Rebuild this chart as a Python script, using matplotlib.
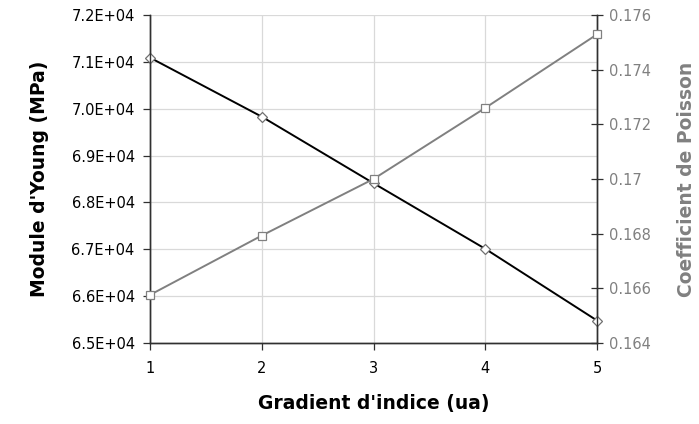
import matplotlib
matplotlib.use("Agg")
import matplotlib.pyplot as plt
from matplotlib.ticker import FuncFormatter, MultipleLocator

plt.rcParams['font.family'] = ['DejaVu Sans']

gradient = [1, 2, 3, 4, 5]
young = [7.109e4, 6.983e4, 6.841e4, 6.701e4, 6.548e4]
poisson = [0.16576, 0.16793, 0.1700, 0.1726, 0.17529]

fig = plt.figure(figsize=(6.99, 4.24), dpi=100)
ax = fig.add_axes([150/699, 1-343/424, (597-150)/699, (343-15)/424])
ax2 = ax.twinx()

ax.plot(gradient, young, color='black', lw=1.4, marker='D', ms=5.5,
        mfc='white', mec='#707070', mew=0.9, zorder=3, clip_on=False)
ax2.plot(gradient, poisson, color='#808080', lw=1.4, marker='s', ms=6,
         mfc='white', mec='#808080', mew=0.9, zorder=3, clip_on=False)

ax.set_xlim(1, 5)
ax.set_ylim(6.5e4, 7.2e4)
ax.yaxis.set_major_locator(MultipleLocator(1000))
ax.xaxis.set_major_locator(MultipleLocator(1))
ax.yaxis.set_major_formatter(FuncFormatter(lambda v, p: '%.1E' % v))
ax2.set_ylim(0.164, 0.176)
ax2.yaxis.set_major_locator(MultipleLocator(0.002))
ax2.yaxis.set_major_formatter(FuncFormatter(lambda v, p: '%g' % round(v, 4)))

ax.grid(True, color='#d9d9d9', lw=0.9)
ax.set_axisbelow(True)

for a in (ax, ax2):
    a.spines['top'].set_visible(False)
    for s in ('left', 'bottom', 'right'):
        a.spines[s].set_color('#303030')
        a.spines[s].set_linewidth(1.0)

ax.tick_params(axis='y', direction='out', length=5, width=0.9, color='#303030',
               labelsize=10.5, pad=6)
ax.tick_params(axis='x', direction='out', length=5, width=0.9, color='#303030',
               labelsize=10.5, pad=8)
ax2.tick_params(axis='y', direction='inout', length=8, width=0.9, color='#303030',
                labelsize=10.5, labelcolor='#808080', pad=5)

ax.set_xlabel("Gradient d'indice (ua)", fontsize=13.5, fontweight='bold', labelpad=13)
ax.set_ylabel("Module d'Young (MPa)", fontsize=13.5, fontweight='bold', labelpad=16)
ax2.set_ylabel("Coefficient de Poisson", fontsize=13.5, fontweight='bold',
               color='#808080', labelpad=18)

fig.savefig('out.png', dpi=100)
